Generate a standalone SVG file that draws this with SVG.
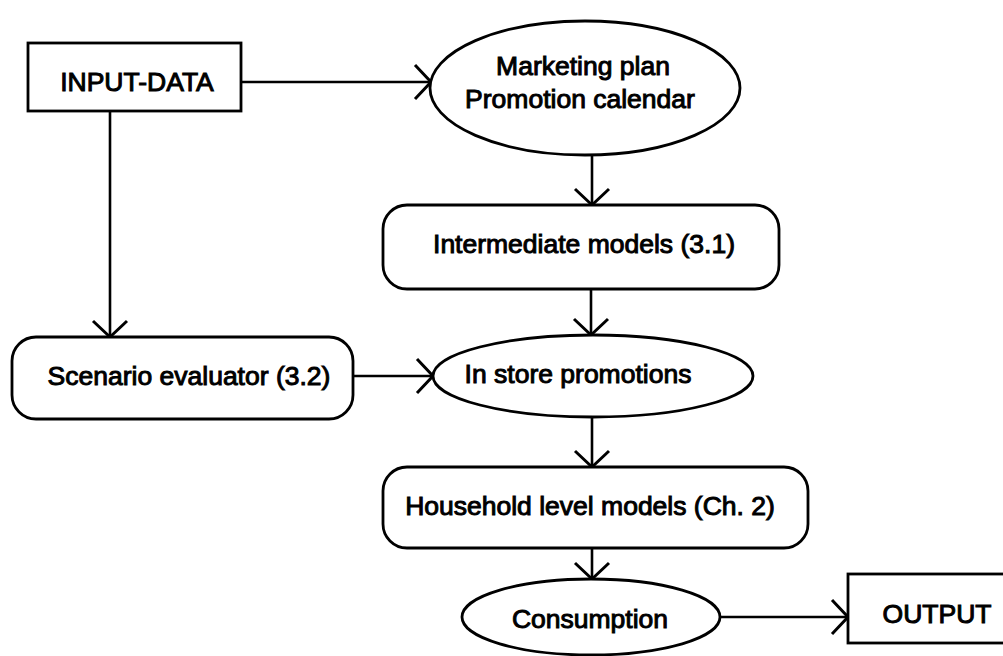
<svg xmlns="http://www.w3.org/2000/svg" width="1003" height="656" viewBox="0 0 1003 656">
<style>
.s{fill:#fff;stroke:#000;stroke-width:2.8}
.t{font-family:"Liberation Sans",Arial,sans-serif;font-size:26.5px;fill:#000;stroke:#000;stroke-width:1;text-anchor:middle}
.c{fill:none;stroke:#000;stroke-width:2.6}
</style>
<defs>
<marker id="ah" markerUnits="userSpaceOnUse" markerWidth="22" markerHeight="40" viewBox="0 0 22 40" refX="19" refY="20" orient="auto">
<path d="M3,3 L19,20 L3,37" fill="none" stroke="#000" stroke-width="3"/>
</marker>
</defs>
<rect width="1003" height="656" fill="#fff"/>
<g id="connectors">
<line class="c" x1="241" y1="82" x2="431" y2="82" marker-end="url(#ah)"/>
<line class="c" x1="110" y1="111" x2="110" y2="337" marker-end="url(#ah)"/>
<line class="c" x1="592" y1="155" x2="592" y2="205" marker-end="url(#ah)"/>
<line class="c" x1="591" y1="289" x2="591" y2="335" marker-end="url(#ah)"/>
<line class="c" x1="353" y1="376" x2="433" y2="376" marker-end="url(#ah)"/>
<line class="c" x1="592" y1="417" x2="592" y2="467" marker-end="url(#ah)"/>
<line class="c" x1="592" y1="548" x2="592" y2="579" marker-end="url(#ah)"/>
<line class="c" x1="720" y1="617" x2="848" y2="617" marker-end="url(#ah)"/>
</g>
<g id="input-data">
<rect class="s" x="28" y="43" width="213" height="68"/>
<text class="t" x="137" y="91">INPUT-DATA</text>
</g>
<g id="marketing-plan">
<ellipse class="s" cx="585" cy="88" rx="155" ry="67"/>
<text class="t" x="583" y="75">Marketing plan</text>
<text class="t" x="580" y="108">Promotion calendar</text>
</g>
<g id="intermediate-models">
<rect class="s" x="383" y="205" width="396" height="84" rx="24" ry="24"/>
<text class="t" x="584" y="253">Intermediate models (3.1)</text>
</g>
<g id="scenario-evaluator">
<rect class="s" x="12" y="337" width="341" height="82" rx="24" ry="24"/>
<text class="t" x="189" y="385">Scenario evaluator (3.2)</text>
</g>
<g id="in-store-promotions">
<ellipse class="s" cx="593" cy="376" rx="160" ry="41"/>
<text class="t" x="578" y="383">In store promotions</text>
</g>
<g id="household-models">
<rect class="s" x="383" y="467" width="425" height="81" rx="24" ry="24"/>
<text class="t" x="590" y="515">Household level models (Ch. 2)</text>
</g>
<g id="consumption">
<ellipse class="s" cx="591" cy="617" rx="129" ry="38"/>
<text class="t" x="590" y="628">Consumption</text>
</g>
<g id="output">
<rect class="s" x="848" y="574" width="170" height="69"/>
<text class="t" x="937" y="623">OUTPUT</text>
</g>
</svg>
